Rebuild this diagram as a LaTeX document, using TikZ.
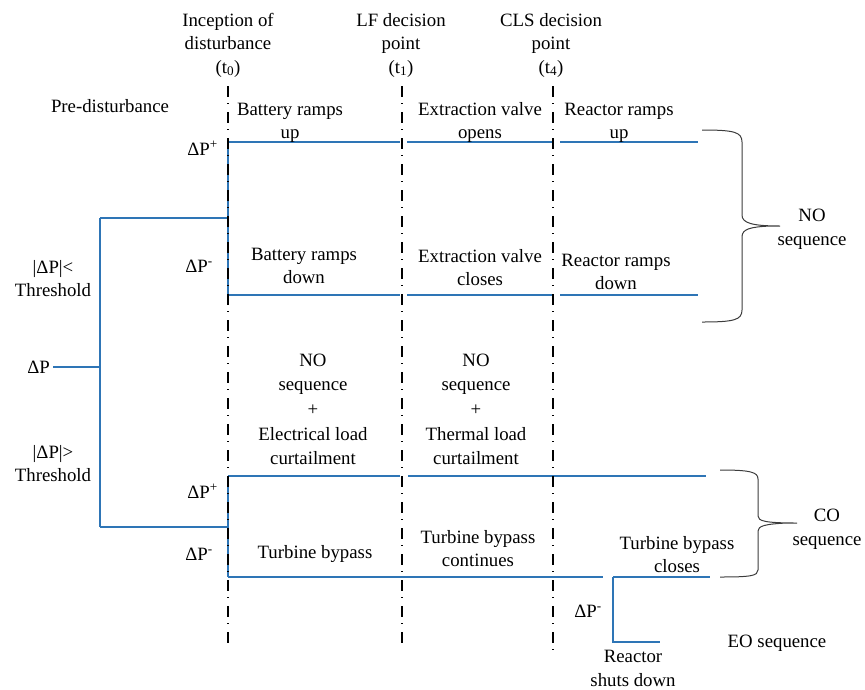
\documentclass[tikz,border=0pt]{standalone}
\usepackage{fontspec}
\setmainfont{Liberation Serif}
\definecolor{blueline}{RGB}{46,117,182}
\definecolor{bracegray}{RGB}{60,60,60}
\begin{document}
\begin{tikzpicture}[x=1pt,y=-1pt,
  lbl/.style={font=\fontsize{18.8}{23.5}\selectfont, align=center, inner sep=0pt, anchor=base},
  lblw/.style={font=\fontsize{18.8}{24.7}\selectfont, align=center, inner sep=0pt, anchor=base},
  lbe/.style={font=\fontsize{18.8}{23.5}\selectfont, inner sep=0pt, anchor=base east},
  bl/.style={draw=blueline, line width=1.5pt},
  timeline/.style={draw=black, line width=1.2pt, dash pattern=on 11pt off 6pt on 1pt off 8pt},
  bracestyle/.style={draw=bracegray, line width=1pt}]
\useasboundingbox (0,0) rectangle (865,689);

% ---------- header labels (base = last line)
\node[lbl] (hdr0) at (228,73) {Inception of\\disturbance\\(t\textsubscript{0})};
\node[lbl] (hdr1) at (401,73) {LF decision\\point\\(t\textsubscript{1})};
\node[lbl] (hdr4) at (551,73) {CLS decision\\point\\(t\textsubscript{4})};
\node[lbl] (pre) at (110,112) {Pre-disturbance};

% ---------- coordinates of the tree
\coordinate (dpend) at (53,367);
\coordinate (j0) at (100,367);
\coordinate (jtop) at (100,218);
\coordinate (jbot) at (100,527);
\coordinate (a0) at (228,218);
\coordinate (a0p) at (228,142);
\coordinate (a0m) at (228,295);
\coordinate (b0) at (228,527);
\coordinate (b0p) at (228,476);
\coordinate (b0m) at (228,577);
\coordinate (p1a) at (400,142);
\coordinate (p1b) at (407,142);
\coordinate (p1c) at (552,142);
\coordinate (p1d) at (560,142);
\coordinate (p1e) at (698,142);
\coordinate (m1a) at (400,295);
\coordinate (m1b) at (407,295);
\coordinate (m1c) at (552,295);
\coordinate (m1d) at (560,295);
\coordinate (m1e) at (698,295);
\coordinate (p2a) at (400,476);
\coordinate (p2b) at (408,476);
\coordinate (p2e) at (706,476);
\coordinate (m2a) at (603,577);
\coordinate (m2b) at (613,577);
\coordinate (m2e) at (710,577);
\coordinate (e1) at (613,642);
\coordinate (e2) at (660,642);

% ---------- blue lines
\draw[bl] (dpend) -- (j0);
\draw[bl] (jtop) -- (jbot);
\draw[bl] (jtop) -- (a0);
\draw[bl] (jbot) -- (b0);
\draw[bl] (a0p) -- (a0m);
\draw[bl] (b0p) -- (b0m);
\draw[bl] (a0p) -- (p1a);
\draw[bl] (p1b) -- (p1c);
\draw[bl] (p1d) -- (p1e);
\draw[bl] (a0m) -- (m1a);
\draw[bl] (m1b) -- (m1c);
\draw[bl] (m1d) -- (m1e);
\draw[bl] (b0p) -- (p2a);
\draw[bl] (p2b) -- (p2e);
\draw[bl] (b0m) -- (m2a);
\draw[bl] (m2b) -- (m2e);
\draw[bl] (m2b) -- (e1) -- (e2);

% ---------- time lines
\coordinate (t0top) at (228,86);
\coordinate (t0bot) at (228,646);
\coordinate (t1top) at (402,86);
\coordinate (t1bot) at (402,646);
\coordinate (t4top) at (553,86);
\coordinate (t4bot) at (553,654);
\draw[timeline] (t0top) -- (t0bot);
\draw[timeline] (t1top) -- (t1bot);
\draw[timeline] (t4top) -- (t4bot);

% ---------- braces
\draw[bracestyle] (702,130) .. controls (734,130) and (742,132) .. (742,142) -- (742,215)
  .. controls (742,223) and (752,226) .. (780,226) -- (770,226)
  .. controls (750,227) and (742,229) .. (742,237) -- (742,310)
  .. controls (742,320) and (734,322) .. (702,322);
\draw[bracestyle] (720,470) .. controls (750,470) and (758,472) .. (758,479) -- (758,516)
  .. controls (758,521) and (765,523) .. (797,523) -- (787,523)
  .. controls (765,524) and (758,526) .. (758,531) -- (758,570)
  .. controls (758,576) and (750,577) .. (720,577);

% ---------- labels
\node[lbl] (bu) at (290,138.5) {Battery ramps\\up};
\node[lbl] (evo) at (480,138.5) {Extraction valve\\opens};
\node[lbl] (rru) at (619,138.5) {Reactor ramps\\up};
\node[lbe] (dpp1) at (218,155) {ΔP\textsuperscript{+}};
\node[lbe] (dpm1) at (213,272) {ΔP\textsuperscript{-}};
\node[lbl] (bd) at (304,283.5) {Battery ramps\\down};
\node[lbl] (evc) at (480,285.5) {Extraction valve\\closes};
\node[lbl] (rrd) at (616,289.5) {Reactor ramps\\down};
\node[lbl] (lt) at (53,296.5) {|ΔP|<\\Threshold};
\node[lbe] (dp) at (50,373) {ΔP};
\node[lbl] (gt) at (53,481.5) {|ΔP|>\\Threshold};
\node[lblw] (noe) at (313,464.8) {NO\\sequence\\+\\Electrical load\\curtailment};
\node[lblw] (not) at (476,464.8) {NO\\sequence\\+\\Thermal load\\curtailment};
\node[lbe] (dpp2) at (218,498) {ΔP\textsuperscript{+}};
\node[lbe] (dpm2) at (213,560) {ΔP\textsuperscript{-}};
\node[lbl] (tb) at (315,558) {Turbine bypass};
\node[lbl] (tbc) at (478,566.5) {Turbine bypass\\continues};
\node[lbl] (tbcl) at (677,572.5) {Turbine bypass\\closes};
\node[lbe] (dpm3) at (602,617) {ΔP\textsuperscript{-}};
\node[lbl] (rsd) at (633,686) {Reactor\\shuts down};
\node[lbl] (eo) at (777,647) {EO sequence};
\node[lbl] (co) at (827,545) {CO\\sequence};
\node[lbl] (nos) at (812,245) {NO\\sequence};
\end{tikzpicture}
\end{document}
